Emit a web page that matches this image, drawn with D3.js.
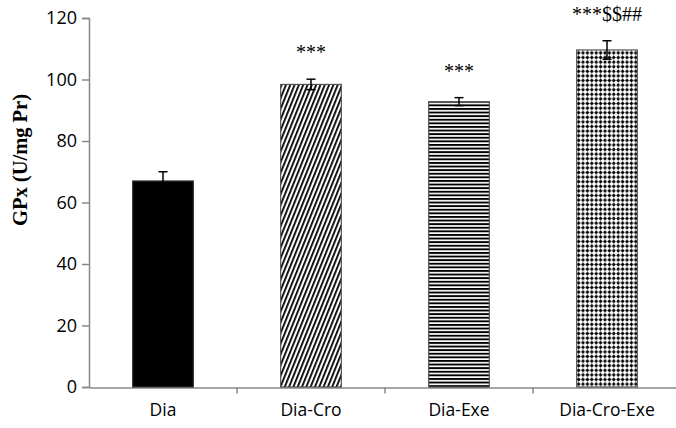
<!DOCTYPE html>
<html><head><meta charset="utf-8">
<script src="https://cdn.jsdelivr.net/npm/d3@7"></script>
<style>body{margin:0;background:#fff}</style>
</head><body>
<svg id="c" width="676" height="428"></svg>
<script>
const categories = ["Dia","Dia-Cro","Dia-Exe","Dia-Cro-Exe"];
const values = [67.0, 98.4, 92.8, 109.6];
const errors = [3.0, 1.7, 1.3, 3.0];
const annotations = ["", "***", "***", "***$$##"];
const yTicks = [0,20,40,60,80,100,120];
const fills = ["#000","url(#diag)","url(#horiz)","url(#diam)"];

const svg = d3.select("#c");
const defs = svg.append("defs");
const pd = defs.append("pattern").attr("id","diag").attr("patternUnits","userSpaceOnUse")
  .attr("width",4).attr("height",4).attr("patternTransform","rotate(22)");
pd.append("rect").attr("width",4).attr("height",4).attr("fill","#fff");
pd.append("rect").attr("width",1.8).attr("height",4).attr("fill","#000");
const ph = defs.append("pattern").attr("id","horiz").attr("patternUnits","userSpaceOnUse")
  .attr("width",4).attr("height",3.6);
ph.append("rect").attr("width",4).attr("height",3.6).attr("fill","#fff");
ph.append("rect").attr("width",4).attr("height",1.9).attr("fill","#000");
const pm = defs.append("pattern").attr("id","diam").attr("patternUnits","userSpaceOnUse")
  .attr("width",4.4).attr("height",4.6);
pm.append("rect").attr("width",4.4).attr("height",4.6).attr("fill","#fff");
pm.append("polygon").attr("points","2.2,0.2 4.2,2.3 2.2,4.4 0.2,2.3").attr("fill","#000");

const x = d3.scaleBand().domain(categories).range([89, 681]).padding(0);
const y = d3.scaleLinear().domain([0,120]).range([387, 18]);
const bw = x.bandwidth()*0.41;

// y axis
const ya = svg.append("g").attr("transform","translate(89,0)")
  .call(d3.axisLeft(y).tickValues(yTicks).tickSize(7).tickPadding(5));
ya.select(".domain").attr("stroke","#888").attr("stroke-width",1.5);
ya.selectAll(".tick line").attr("stroke","#888").attr("stroke-width",1.5);
ya.selectAll("text").attr("font-family","'Open Sans', sans-serif").attr("font-size",18).attr("fill","#000");

// x axis
const xa = svg.append("g").attr("transform","translate(0,387.5)")
  .call(d3.axisBottom(x).tickSize(0).tickPadding(16));
xa.select(".domain").attr("stroke","#888").attr("stroke-width",1.5);
xa.selectAll("text").attr("font-family","'Open Sans', sans-serif").attr("font-size",17.5).attr("fill","#000");
xa.selectAll(".bt").data(categories.slice(1)).enter().append("line")
  .attr("x1",d=>x(d)).attr("x2",d=>x(d)).attr("y1",0).attr("y2",6)
  .attr("stroke","#888").attr("stroke-width",1.5);

// bars
svg.selectAll(".bar").data(categories).enter().append("rect")
  .attr("x",d=>x(d)+x.bandwidth()/2-bw/2).attr("width",bw)
  .attr("y",(d,i)=>y(values[i])).attr("height",(d,i)=>y(0)-y(values[i]))
  .attr("fill",(d,i)=>fills[i]).attr("stroke",(d,i)=>i===0?"#333":"#555").attr("stroke-width",1.2);

// error bars
const eg = svg.append("g").attr("stroke","#000").attr("stroke-width",1.5);
categories.forEach((d,i)=>{
  const cx = x(d)+x.bandwidth()/2;
  eg.append("line").attr("x1",cx).attr("x2",cx).attr("y1",y(values[i]-errors[i])).attr("y2",y(values[i]+errors[i]));
  eg.append("line").attr("x1",cx-4.5).attr("x2",cx+4.5).attr("y1",y(values[i]+errors[i])).attr("y2",y(values[i]+errors[i]));
  eg.append("line").attr("x1",cx-4.5).attr("x2",cx+4.5).attr("y1",y(values[i]-errors[i])).attr("y2",y(values[i]-errors[i]));
});

// annotations
svg.selectAll(".ann").data(categories).enter().append("text")
  .attr("x",d=>x(d)+x.bandwidth()/2).attr("y",(d,i)=>y(values[i]+errors[i])-20)
  .attr("text-anchor","middle").attr("font-family","'Liberation Serif', serif").attr("font-size",20)
  .text((d,i)=>annotations[i]);

// y label
svg.append("text").attr("transform","translate(27,160) rotate(-90)")
  .attr("text-anchor","middle").attr("font-family","'Liberation Serif', serif")
  .attr("font-weight","bold").attr("font-size",20.5).text("GPx (U/mg Pr)");
</script>
</body></html>
